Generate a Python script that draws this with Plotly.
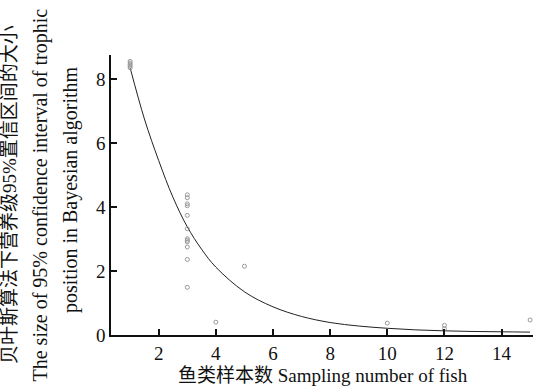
import plotly.graph_objects as go

# Scatter observations
obs_x = [1, 1, 1, 1, 1,
         3, 3, 3, 3, 3, 3, 3, 3, 3, 3, 3, 3,
         4, 5, 10, 12, 12, 15]
obs_y = [8.55, 8.5, 8.45, 8.4, 8.35,
         4.38, 4.29, 4.10, 4.04, 3.74, 3.32, 3.01, 2.96, 2.91, 2.75, 2.36, 1.49,
         0.40, 2.15, 0.37, 0.30, 0.20, 0.47]

# Fitted curve
fit_x = [1, 1.5, 2, 2.5, 3, 3.5, 4, 5, 6, 7, 8, 9, 10, 11, 12, 13, 14, 15]
fit_y = [8.35, 6.75, 5.45, 4.3, 3.38, 2.68, 2.12, 1.35, 0.88, 0.58, 0.39, 0.28, 0.21, 0.16, 0.13, 0.11, 0.10, 0.09]

x_ticks = [2, 4, 6, 8, 10, 12, 14]
y_ticks = [0, 2, 4, 6, 8]

y_title_lines = ["贝叶斯算法下营养级95%置信区间的大小",
                 "The size of 95% confidence interval of trophic",
                 "position in Bayesian algorithm"]
x_title = "鱼类样本数 Sampling number of fish"

serif = "Liberation Serif, Times New Roman, Noto Sans CJK SC, serif"
cjk = "Liberation Serif, Noto Sans CJK SC, serif"

L, R, T, B = 111, 4, 55, 55
W, H = 537, 390
pw, ph = W - L - R, H - T - B

def px_x(p):
    return (p - L) / pw

def px_y(p):
    return (H - B - p) / ph

fig = go.Figure()
fig.add_trace(go.Scatter(x=fit_x, y=fit_y, mode="lines",
                         line=dict(color="#222222", width=1, shape="spline"),
                         hoverinfo="skip", showlegend=False))
fig.add_trace(go.Scatter(x=obs_x, y=obs_y, mode="markers",
                         marker=dict(symbol="circle-open", size=4, color="#999999",
                                     line=dict(width=1, color="#999999")),
                         showlegend=False))

axis_common = dict(ticks="inside", ticklen=6, tickwidth=1.5, tickcolor="#111111",
                   showline=True, linecolor="#111111", linewidth=1.5,
                   showgrid=False, zeroline=False,
                   tickfont=dict(family=serif, size=19, color="#111111"))

ann = []
for text, cx, cy, fam, sz in [(y_title_lines[0], 9, 195, cjk, 19),
                              (y_title_lines[1], 40, 195.5, serif, 20),
                              (y_title_lines[2], 70, 190, serif, 20)]:
    ann.append(dict(text=text, textangle=-90, xref="paper", yref="paper",
                    x=px_x(cx), y=px_y(cy), xanchor="center", yanchor="middle",
                    showarrow=False, font=dict(family=fam, size=sz, color="#111111")))
ann.append(dict(text=x_title, xref="paper", yref="paper", x=px_x(323), y=px_y(375),
                xanchor="center", yanchor="middle", showarrow=False,
                font=dict(family=cjk, size=19, color="#111111")))

fig.update_layout(
    width=W, height=H,
    margin=dict(l=L, r=R, t=T, b=B),
    paper_bgcolor="white", plot_bgcolor="white",
    font=dict(family=serif, size=19, color="#111111"),
    xaxis=dict(range=[0.33, 15.1], tickvals=x_ticks, **axis_common),
    yaxis=dict(range=[0, 8.75], tickvals=y_ticks, **axis_common),
    annotations=ann,
)

fig.write_html("out.html", config={"displayModeBar": False},
               post_script="document.body.style.margin='0';document.body.style.overflow='hidden';")
